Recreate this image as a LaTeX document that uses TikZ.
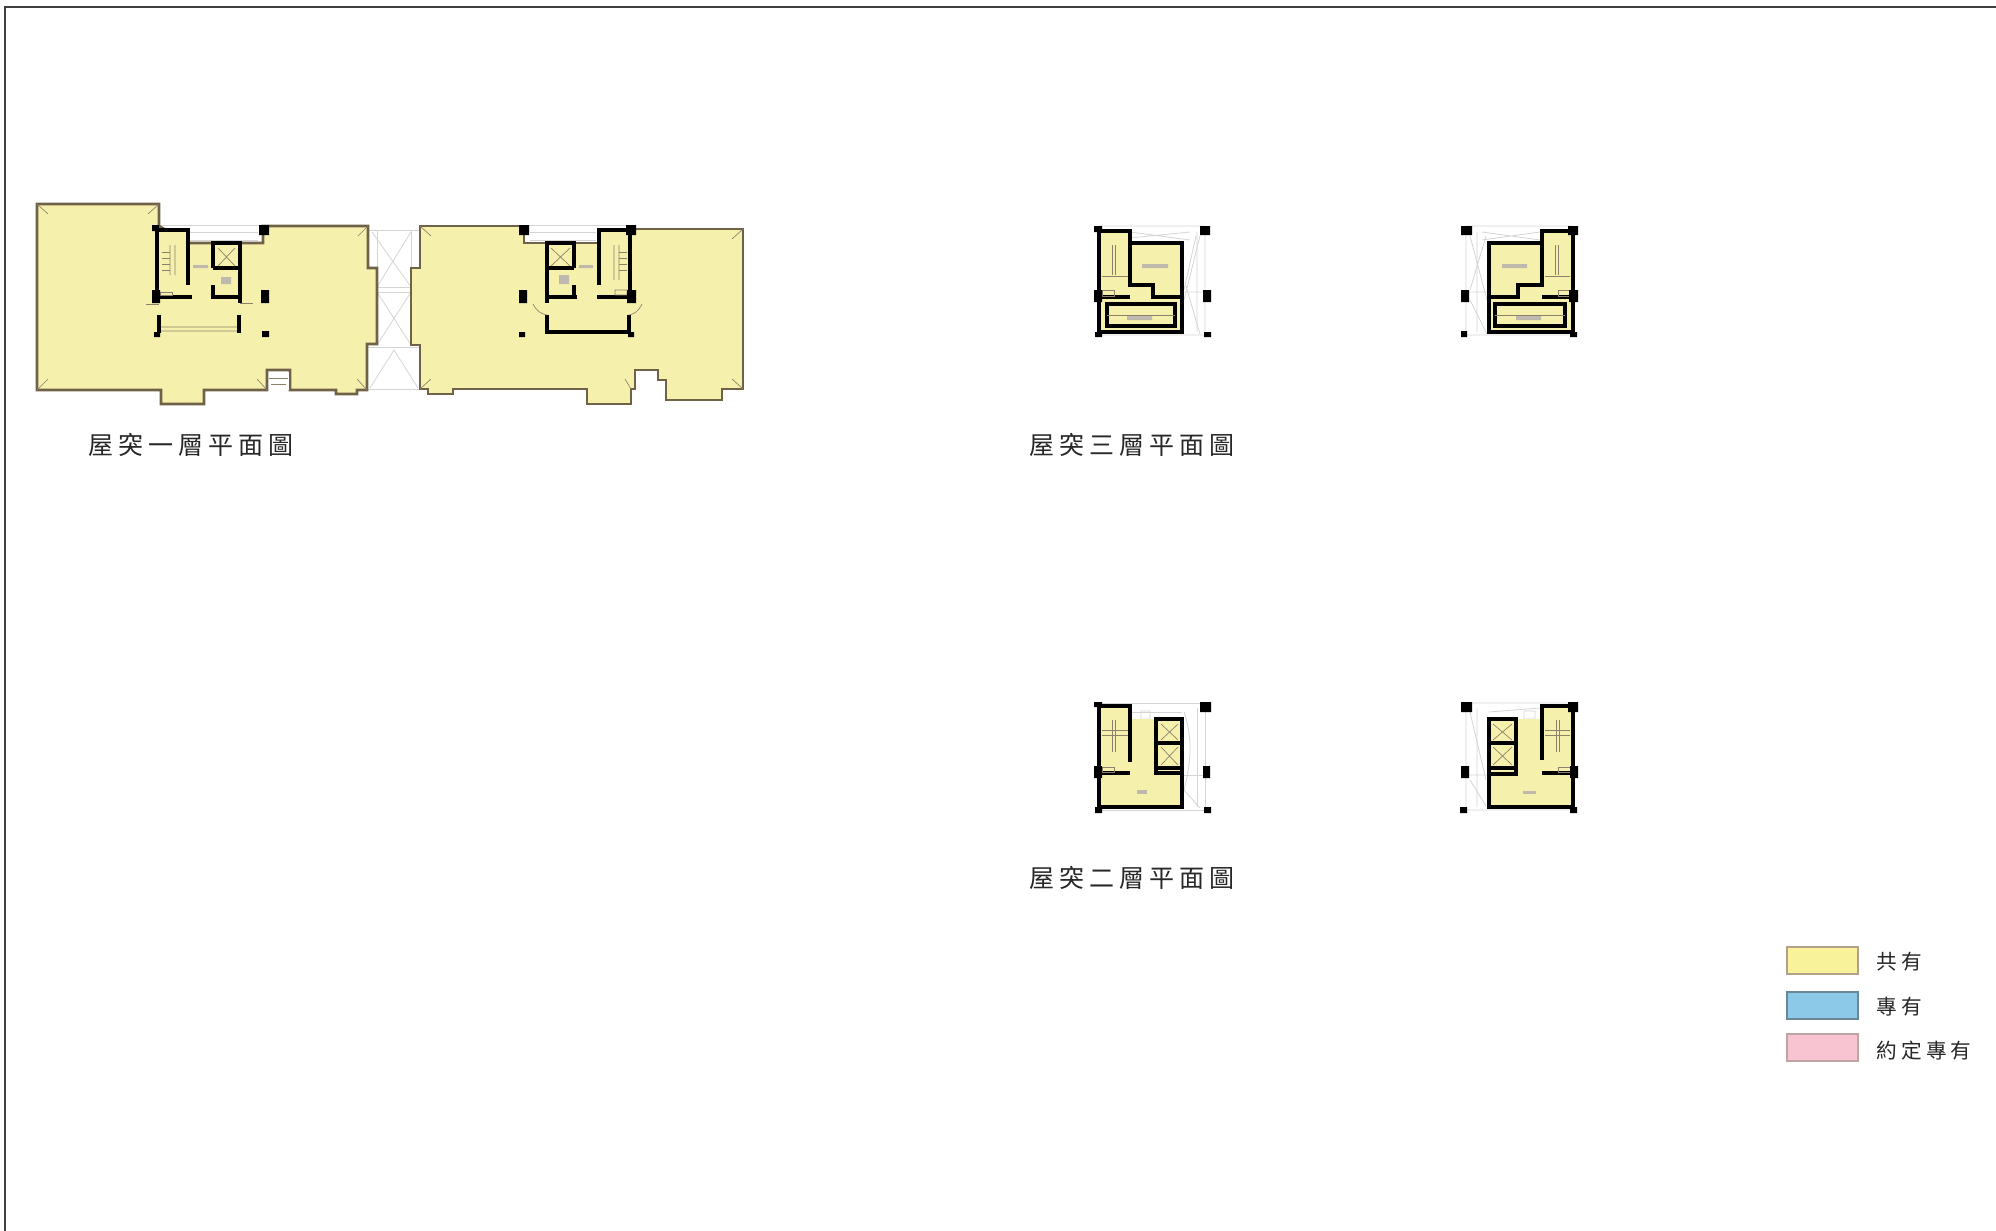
\documentclass[tikz,border=0pt]{standalone}
\usepackage{fontspec}
\newfontfamily\cjktitle[LetterSpace=20]{Noto Sans CJK TC}
\definecolor{planyellow}{RGB}{245,240,172}
\definecolor{planbrown}{RGB}{112,98,72}
\definecolor{thingrey}{RGB}{212,212,212}
\definecolor{pencolor}{RGB}{40,40,40}
\tikzset{every picture/.style={line width=0.75pt}}
\tikzset{
  outer wall/.style={draw=planbrown,fill=planyellow,line width=2pt,line join=miter},
  plain floor/.style={draw=none,fill=planyellow},
  black wall/.style={draw=black,line width=2.6pt,line cap=butt,line join=miter},
  black column/.style={fill=black},
  thin grey/.style={draw=thingrey,line width=0.6pt},
  thin brown/.style={draw=planbrown!80,line width=0.5pt},
  tiny mark/.style={fill=planbrown!45},
  plan title/.style={inner sep=0pt,text=pencolor,font=\cjktitle\fontsize{18.75}{19}\selectfont},
  legend text/.style={anchor=west,inner sep=0pt,text=pencolor,font=\cjktitle\fontsize{15.5}{16}\selectfont},
  legend box/.style={anchor=north west,inner sep=0pt,line width=1.6pt,minimum width=53pt,minimum height=20pt}
}
\begin{document}
\begin{tikzpicture}[x=0.75pt,y=0.75pt,yscale=-1,xscale=1]
\useasboundingbox (0,0) rectangle (1996,1231);

% page frame
\draw [draw=black!75,line width=0.8pt] (5,1231) -- (5,7) -- (1996,7);

% bridge between the wings
\draw [thin grey] (368,230) -- (420,230) (377,287) -- (411,287) (377,292) -- (411,292) (367,347) -- (420,347) (367,389) -- (420,389);
\draw [thin grey] (377,230) -- (377,344) (411,230) -- (411,344);
\draw [thin grey] (372,232) -- (411,287) (411,232) -- (377,287) (377,292) -- (411,345) (411,292) -- (377,345);
\draw [thin grey] (370,388) -- (394,350) -- (418,388);

% first floor, left wing
\draw [thin grey] (159,225) -- (263,225) (188,232) -- (258,232) (188,240) -- (258,240);
\draw [outer wall] (37,204) -- (159,204) -- (159,226) -- (188,243) -- (263,243) -- (263,226) -- (368,226) -- (368,268) -- (377,268) -- (377,344) -- (367,344) -- (367,390) -- (357,390) -- (357,394) -- (336,394) -- (336,390) -- (290,390) -- (290,370) -- (267,370) -- (267,390) -- (204,390) -- (204,404) -- (161,404) -- (161,390) -- (37,390) -- cycle;
\fill [planyellow] (159,229) rectangle (188,243);
\draw [thin brown] (37,204) -- (48,214) (159,204) -- (148,214) (368,226) -- (358,236) (37,390) -- (48,379) (267,390) -- (257,379) (367,390) -- (357,379);
\draw [draw=white,fill=white] (269,372) rectangle (288,389);
\draw [thin brown] (269,378) -- (288,378) (271,384) -- (286,384);
\draw [black wall] (188,285) -- (188,230) -- (157,230) -- (157,297) -- (192,297);
\draw [black wall] (213,268) -- (213,243) -- (240,243) -- (240,303) (213,268) -- (240,268) (213,285) -- (213,297) -- (240,297);
\draw [black wall] (159,315) -- (159,333) (239,315) -- (239,333);
\draw [thin brown] (161,331) -- (237,331) (161,327) -- (237,327) (218,248) -- (235,266) (235,248) -- (218,266) (170,245) -- (170,275) (175,245) -- (175,275);
\draw [thin brown] (162,252) -- (170,252) (162,258) -- (170,258) (162,264) -- (170,264) (162,270) -- (170,270);
\draw [thin brown] (160,292) rectangle (172,295) (146,304) -- (159,304) (240,303) -- (253,303);
\fill [tiny mark] (193,265) rectangle (208,268) (221,277) rectangle (231,284);
\fill [black column] (152,225) rectangle (159,231) (259,225) rectangle (269,235) (152,290) rectangle (160,303) (261,290) rectangle (269,303) (154,332) rectangle (160,337) (262,331) rectangle (269,337);

% first floor, right wing
\draw [thin grey] (526,225) -- (630,225) (530,232) -- (596,232) (530,240) -- (596,240);
\draw [outer wall] (420,226) -- (524,226) -- (524,243) -- (599,243) -- (599,229) -- (636,229) -- (743,229) -- (743,389) -- (722,389) -- (722,400) -- (666,400) -- (666,380) -- (658,380) -- (658,370) -- (635,370) -- (635,389) -- (631,389) -- (631,404) -- (587,404) -- (587,389) -- (453,389) -- (453,394) -- (428,394) -- (428,389) -- (420,389) -- (420,345) -- (411,345) -- (411,268) -- (420,268) -- cycle;
\draw [thin brown] (420,226) -- (431,236) (743,229) -- (732,239) (420,389) -- (431,379) (631,389) -- (625,379) (743,389) -- (732,379);
\draw [draw=white,fill=white] (637,372) rectangle (656,378);
\draw [black wall] (574,268) -- (574,243) -- (547,243) -- (547,303) (547,268) -- (574,268) (574,285) -- (574,297) -- (547,297) (574,297) -- (577,297);
\draw [black wall] (599,285) -- (599,230) -- (630,230) -- (630,297) -- (597,297);
\draw [black wall] (547,315) -- (547,332) -- (629,332) -- (629,315);
\draw [thin brown] (551,248) -- (570,266) (570,248) -- (551,266) (614,245) -- (614,280) (619,245) -- (619,280);
\draw [thin brown] (619,252) -- (627,252) (619,258) -- (627,258) (619,264) -- (627,264) (619,270) -- (627,270);
\draw [thin brown] (615,290) rectangle (627,295) (533,304) .. controls (537,312) and (542,314) .. (547,315) (642,304) .. controls (638,312) and (634,314) .. (629,315);
\fill [tiny mark] (579,265) rectangle (593,268) (559,275) rectangle (569,284);
\fill [black column] (519,225) rectangle (529,235) (626,225) rectangle (636,235) (519,290) rectangle (527,303) (627,290) rectangle (636,303) (519,332) rectangle (525,337) (628,332) rectangle (634,337);

% third floor, left plan
\draw [thin grey] (1099,226) -- (1205,226) -- (1205,335) -- (1099,335) (1197,232) -- (1197,332) (1130,232) -- (1190,240) (1130,238) -- (1190,232) (1182,292) -- (1205,292);
\draw [thin grey] (1184,300) -- (1200,236) (1186,286) -- (1200,334) (1196,236) -- (1184,290);
\fill [plain floor] (1099,231) -- (1130,231) -- (1130,243) -- (1182,243) -- (1182,332) -- (1099,332) -- cycle;
\draw [black wall] (1099,332) -- (1182,332) -- (1182,243) -- (1130,243) -- (1130,285) -- (1153,285) -- (1153,297) -- (1182,297);
\draw [black wall] (1130,243) -- (1130,231) -- (1099,231) -- (1099,332) (1099,297) -- (1130,297);
\draw [black wall] (1107,304) rectangle (1175,326);
\draw [thin brown] (1112,245) -- (1112,275) (1115,245) -- (1115,275) (1102,276) -- (1128,276) (1102,290) rectangle (1114,296) (1107,315) -- (1175,315);
\fill [tiny mark] (1142,264) rectangle (1168,268) (1127,316) rectangle (1152,320);
\fill [black column] (1094,226) rectangle (1102,232) (1200,226) rectangle (1210,235) (1094,290) rectangle (1102,302) (1203,290) rectangle (1211,302) (1095,332) rectangle (1102,337) (1204,332) rectangle (1211,337);

% third floor, right plan
\draw [thin grey] (1466,226) -- (1573,226) (1466,335) -- (1573,335) (1466,226) -- (1466,335) (1477,232) -- (1477,332) (1482,232) -- (1540,240) (1482,240) -- (1540,232) (1469,292) -- (1489,292);
\draw [thin grey] (1470,236) -- (1487,300) (1486,236) -- (1470,290) (1470,300) -- (1487,334);
\fill [plain floor] (1489,243) -- (1542,243) -- (1542,231) -- (1573,231) -- (1573,332) -- (1489,332) -- cycle;
\draw [black wall] (1573,332) -- (1489,332) -- (1489,243) -- (1542,243) -- (1542,285) -- (1518,285) -- (1518,297) -- (1489,297);
\draw [black wall] (1542,243) -- (1542,231) -- (1573,231) -- (1573,332) (1573,297) -- (1542,297);
\draw [black wall] (1495,304) rectangle (1565,326);
\draw [thin brown] (1555,245) -- (1555,275) (1558,245) -- (1558,275) (1545,276) -- (1570,276) (1558,290) rectangle (1570,296) (1495,315) -- (1565,315);
\fill [tiny mark] (1502,264) rectangle (1527,268) (1516,316) rectangle (1541,320);
\fill [black column] (1461,226) rectangle (1472,235) (1568,226) rectangle (1578,235) (1461,290) rectangle (1469,302) (1569,290) rectangle (1578,302) (1461,331) rectangle (1467,337) (1570,332) rectangle (1577,337);

% second floor, left plan
\draw [thin grey] (1102,703) -- (1205,703) (1205,703) -- (1205,810) (1197,708) -- (1197,807) (1102,810) -- (1205,810) (1132,712) -- (1182,712) (1182,775) -- (1205,775);
\draw [thin grey] (1184,712) .. controls (1192,735) and (1192,760) .. (1184,790) (1184,790) -- (1200,808) (1141,711) rectangle (1150,719);
\fill [plain floor] (1099,706) -- (1130,706) -- (1130,719) -- (1182,719) -- (1182,807) -- (1099,807) -- cycle;
\draw [black wall] (1130,762) -- (1130,706) -- (1099,706) -- (1099,807) -- (1182,807) -- (1182,719) -- (1156,719) -- (1156,773) -- (1182,773);
\draw [black wall] (1099,773) -- (1130,773) (1156,743) -- (1182,743) (1156,768) -- (1182,768);
\draw [thin brown] (1161,724) -- (1178,740) (1178,724) -- (1161,740) (1161,747) -- (1178,765) (1178,747) -- (1161,765);
\draw [thin brown] (1112,720) -- (1112,752) (1115,720) -- (1115,752) (1102,730) -- (1128,730) (1102,735) -- (1128,735) (1102,767) rectangle (1114,772);
\fill [tiny mark] (1137,790) rectangle (1147,794);
\fill [black column] (1094,702) rectangle (1102,707) (1200,702) rectangle (1211,712) (1094,766) rectangle (1102,778) (1203,766) rectangle (1210,778) (1095,807) rectangle (1102,813) (1204,807) rectangle (1211,813);

% second floor, right plan
\draw [thin grey] (1466,703) -- (1570,703) (1466,703) -- (1466,810) (1477,708) -- (1477,807) (1466,810) -- (1570,810) (1489,712) -- (1540,708) (1466,775) -- (1489,775);
\draw [thin grey] (1470,712) -- (1486,780) (1470,780) -- (1486,806) (1524,711) rectangle (1535,719);
\fill [plain floor] (1489,719) -- (1542,719) -- (1542,706) -- (1573,706) -- (1573,807) -- (1489,807) -- cycle;
\draw [black wall] (1542,760) -- (1542,706) -- (1573,706) -- (1573,807) -- (1489,807) -- (1489,719) -- (1516,719) -- (1516,774) -- (1489,774);
\draw [black wall] (1489,743) -- (1516,743) (1489,768) -- (1516,768) (1542,773) -- (1573,773);
\draw [thin brown] (1493,724) -- (1512,740) (1512,724) -- (1493,740) (1493,747) -- (1512,765) (1512,747) -- (1493,765);
\draw [thin brown] (1556,720) -- (1556,752) (1559,720) -- (1559,752) (1545,730) -- (1570,730) (1545,735) -- (1570,735) (1558,767) rectangle (1570,772);
\fill [tiny mark] (1523,791) rectangle (1536,794);
\fill [black column] (1461,702) rectangle (1472,712) (1568,702) rectangle (1578,712) (1461,766) rectangle (1469,778) (1570,766) rectangle (1578,778) (1460,807) rectangle (1467,813) (1570,807) rectangle (1577,813);

% plan titles
\node (titleone) [plan title,anchor=west] at (88,445) {屋突一層平面圖};
\node (titlethree) [plan title,anchor=west] at (1029,445) {屋突三層平面圖};
\node (titletwo) [plan title,anchor=west] at (1029,878) {屋突二層平面圖};

% legend
\node (boxshared) [legend box,draw={rgb,255:red,176;green,160;blue,140},fill={rgb,255:red,248;green,242;blue,155}] at (1786,946) {};
\node (boxprivate) [legend box,draw={rgb,255:red,105;green,135;blue,150},fill={rgb,255:red,140;green,200;blue,232}] at (1786,991) {};
\node (boxagreed) [legend box,draw={rgb,255:red,190;green,165;blue,165},fill={rgb,255:red,248;green,196;blue,210}] at (1786,1033) {};
\node (textshared) [legend text] at (1876,962) {共有};
\node (textprivate) [legend text] at (1876,1007) {專有};
\node (textagreed) [legend text] at (1876,1051) {約定專有};

\end{tikzpicture}
\end{document}
